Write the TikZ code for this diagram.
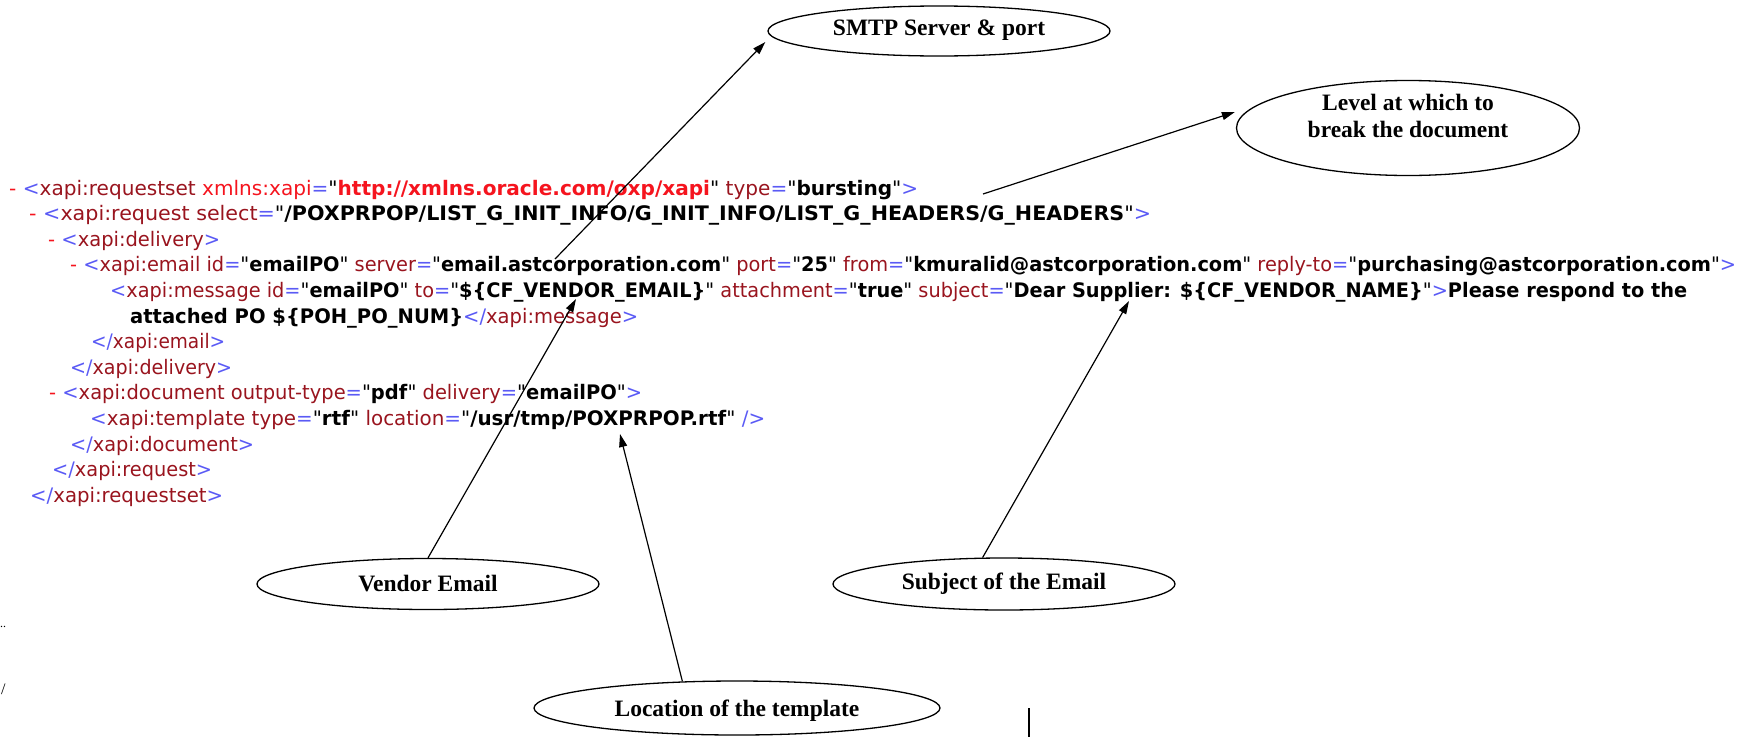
\documentclass[tikz,border=0pt]{standalone}
\usepackage{fontspec}
\usepackage{graphicx}
\usetikzlibrary{shapes.geometric,arrows.meta}
\newfontfamily\xmlfont[FakeStretch=0.96]{DejaVu Sans}
\newfontfamily\bubfont{Liberation Serif}
\definecolor{tagred}{RGB}{153,20,30}
\definecolor{mkblue}{RGB}{90,90,245}
\definecolor{nsred}{RGB}{245,20,30}
\newcommand\xmk[1]{\textcolor{mkblue}{#1}}
\newcommand\xtg[1]{\textcolor{tagred}{#1}}
\newcommand\xns[1]{\textcolor{nsred}{#1}}
\newcommand\xvl[1]{\textbf{#1}}
\newcommand\xdash{\textcolor{nsred}{-}}
\newsavebox\xlinebox
\newlength\xlinewd
\newcommand\fitline[2]{\sbox\xlinebox{#2}\setlength\xlinewd{\wd\xlinebox}\pgfmathsetmacro\xfitf{#1/\xlinewd}\scalebox{\xfitf}[1]{\usebox\xlinebox}}
\tikzset{
  xml/.style={anchor=base west, inner sep=0pt, font=\xmlfont\fontsize{20}{24}\selectfont},
  bubble/.style={ellipse, draw=black, line width=1.3pt, inner sep=0pt},
  bubtext/.style={font=\bubfont\bfseries\fontsize{23.5}{27}\selectfont, align=center, inner sep=0pt},
  conn/.style={draw=black, line width=1.2pt, -{Triangle[length=13pt,width=8pt]}}
}
\begin{document}
\begin{tikzpicture}[x=1pt,y=-1pt]
\useasboundingbox (0,0) rectangle (1752,742);
% XML lines
\node[xml] (l1) at (9,195) {\fitline{909}{\xdash\ \xmk{<}\xtg{xapi:requestset} \xns{xmlns:xapi}\xmk{=}"\xns{\xvl{http://xmlns.oracle.com/oxp/xapi}}" \xtg{type}\xmk{=}"\xvl{bursting}"\xmk{>}}};
\node[xml] (l2) at (29,220.6) {\fitline{1122}{\xdash\ \xmk{<}\xtg{xapi:request select}\xmk{=}"\xvl{/POXPRPOP/LIST\_G\_INIT\_INFO/G\_INIT\_INFO/LIST\_G\_HEADERS/G\_HEADERS}"\xmk{>}}};
\node[xml] (l3) at (48,246.2) {\fitline{172}{\xdash\ \xmk{<}\xtg{xapi:delivery}\xmk{>}}};
\node[xml] (l4) at (70,271.8) {\fitline{1666}{\xdash\ \xmk{<}\xtg{xapi:email id}\xmk{=}"\xvl{emailPO}" \xtg{server}\xmk{=}"\xvl{email.astcorporation.com}" \xtg{port}\xmk{=}"\xvl{25}" \xtg{from}\xmk{=}"\xvl{kmuralid@astcorporation.com}" \xtg{reply-to}\xmk{=}"\xvl{purchasing@astcorporation.com}"\xmk{>}}};
\node[xml] (l5) at (110,297.4) {\fitline{1577}{\xmk{<}\xtg{xapi:message id}\xmk{=}"\xvl{emailPO}" \xtg{to}\xmk{=}"\xvl{\$\{CF\_VENDOR\_EMAIL\}}" \xtg{attachment}\xmk{=}"\xvl{true}" \xtg{subject}\xmk{=}"\xvl{Dear Supplier: \$\{CF\_VENDOR\_NAME\}}"\xmk{>}\xvl{Please respond to the}}};
\node[xml] (l6) at (130,323) {\fitline{508}{\xvl{attached PO \$\{POH\_PO\_NUM\}}\xmk{</}\xtg{xapi:message}\xmk{>}}};
\node[xml] (l7) at (91,348.6) {\fitline{134}{\xmk{</}\xtg{xapi:email}\xmk{>}}};
\node[xml] (l8) at (70,374.2) {\fitline{162}{\xmk{</}\xtg{xapi:delivery}\xmk{>}}};
\node[xml] (l9) at (49,399.8) {\fitline{593}{\xdash\ \xmk{<}\xtg{xapi:document output-type}\xmk{=}"\xvl{pdf}" \xtg{delivery}\xmk{=}"\xvl{emailPO}"\xmk{>}}};
\node[xml] (l10) at (90,425.4) {\fitline{675}{\xmk{<}\xtg{xapi:template type}\xmk{=}"\xvl{rtf}" \xtg{location}\xmk{=}"\xvl{/usr/tmp/POXPRPOP.rtf}" \xmk{/>}}};
\node[xml] (l11) at (70,451) {\fitline{184}{\xmk{</}\xtg{xapi:document}\xmk{>}}};
\node[xml] (l12) at (52,476.6) {\fitline{160}{\xmk{</}\xtg{xapi:request}\xmk{>}}};
\node[xml] (l13) at (30,502.2) {\fitline{193}{\xmk{</}\xtg{xapi:requestset}\xmk{>}}};
% bubbles
\node[bubble, minimum width=342pt, minimum height=50pt] (smtp) at (939,31) {};
\node[bubtext] (smtpt) at (939,30) {SMTP Server \& port};
\node[bubble, minimum width=343pt, minimum height=95pt] (level) at (1408,128) {};
\node[bubtext] (levelt) at (1408,116) {Level at which to\\break the document};
\node[bubble, minimum width=342pt, minimum height=51pt] (vendor) at (428,584) {};
\node[bubtext] (vendort) at (428,584) {Vendor Email};
\node[bubble, minimum width=342pt, minimum height=52pt] (subject) at (1004,584) {};
\node[bubtext] (subjectt) at (1004,584) {Subject of the Email};
\node[bubble, minimum width=406pt, minimum height=54pt] (loc) at (737,708) {};
\node[bubtext] (loct) at (737,711) {Location of the template};
% connector ends
\coordinate (a1) at (555,259);
\coordinate (a2) at (983,194);
\coordinate (t1) at (576,299);
\coordinate (t2) at (620,434);
\coordinate (t3) at (1129,301);
\draw[conn] (a1) -- ([xshift=-2pt,yshift=-11pt]smtp.west);
\draw[conn] (a2) -- ([xshift=-1pt,yshift=16pt]level.west);
\draw[conn] (vendor.north) -- (t1);
\draw[conn] (loc.154) -- (t2);
\draw[conn] (subject.129) -- (t3);
% stray marks
\node[font=\bubfont\fontsize{12}{12}\selectfont, inner sep=0pt, anchor=west] (dots) at (0,627) {..};
\node[font=\bubfont\fontsize{16}{16}\selectfont, inner sep=0pt, anchor=west] (slash) at (1,689) {/};
\draw[line width=2.4pt] (1029,708) -- (1029,737);
\end{tikzpicture}
\end{document}
